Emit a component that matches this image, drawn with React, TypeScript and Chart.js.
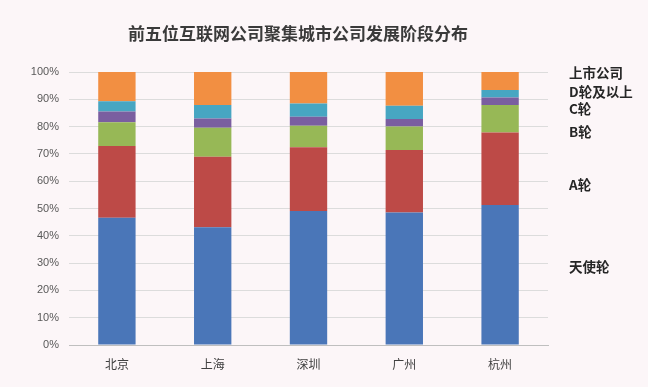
import React, { useEffect, useRef } from "react";
import { Chart, registerables } from "chart.js";

Chart.register(...registerables);

const title = "前五位互联网公司聚集城市公司发展阶段分布";
const cities = ["北京", "上海", "深圳", "广州", "杭州"];
const seriesNames = ["天使轮", "A轮", "B轮", "C轮", "D轮及以上", "上市公司"];
const angel = [46.6, 43.1, 49.1, 48.5, 51.3];
const roundA = [26.3, 25.9, 23.3, 22.9, 26.5];
const roundB = [8.7, 10.6, 7.9, 8.6, 10.1];
const roundC = [3.9, 3.4, 3.3, 2.8, 2.8];
const roundD = [3.8, 4.9, 4.9, 4.8, 2.7];
const listed = [10.7, 12.1, 11.5, 12.4, 6.6];
const colors = ["#4a76b8", "#bd4a47", "#97b856", "#7a5ea0", "#47a6c2", "#f28f42"];
// label anchor values (percent) for the right-side series names
const labelValues = [28.6, 58.6, 78.0, 86.4, 92.7, 99.6];
const yTicks = [0, 10, 20, 30, 40, 50, 60, 70, 80, 90, 100];

export default function App() {
  const ref = useRef<HTMLCanvasElement>(null);
  useEffect(() => {
    document.body.style.margin = "0";
    const canvas = ref.current!;
    const all = [angel, roundA, roundB, roundC, roundD, listed];
    const bg = {
      id: "bg",
      beforeDraw(chart: any) {
        const c = chart.ctx;
        c.save();
        c.fillStyle = "#fcf6f8";
        c.fillRect(0, 0, chart.width, chart.height);
        c.restore();
      },
    };
    const texts = {
      id: "texts",
      afterDraw(chart: any) {
        const c = chart.ctx;
        const y = chart.scales.y;
        c.save();
        c.fillStyle = "#3a3a3a";
        c.font = "bold 17px 'Noto Sans CJK SC'";
        c.textAlign = "center";
        c.textBaseline = "middle";
        c.fillText(title, 298, 34);
        c.font = "bold 13.5px 'Noto Sans CJK SC'";
        c.textAlign = "left";
        c.fillStyle = "#262626";
        seriesNames.forEach((n, i) => {
          c.fillText(n, chart.chartArea.right + 21, y.getPixelForValue(labelValues[i]));
        });
        c.restore();
      },
    };
    const chart = new Chart(canvas, {
      type: "bar",
      data: {
        labels: cities,
        datasets: all.map((d, i) => ({
          label: seriesNames[i],
          data: d,
          backgroundColor: colors[i],
          borderWidth: 0,
          barPercentage: 0.39,
          categoryPercentage: 1,
        })),
      },
      options: {
        animation: false,
        responsive: false,
        layout: { padding: { top: 72, right: 100, left: 0, bottom: 0 } },
        plugins: { legend: { display: false }, tooltip: { enabled: false } },
        scales: {
          x: {
            stacked: true,
            grid: { display: false, drawTicks: false },
            border: { color: "#bfbfbf", width: 1 },
            ticks: { padding: 12, color: "#404040", font: { size: 12, family: "'Noto Sans CJK SC'" } },
            afterFit(s: any) { s.height = 42; },
          },
          y: {
            stacked: true,
            min: 0,
            max: 100,
            afterBuildTicks(s: any) { s.ticks = yTicks.map((v) => ({ value: v })); },
            grid: { color: "#dcdcdc", drawTicks: false },
            border: { display: false },
            ticks: {
              padding: 10,
              color: "#595959",
              font: { size: 11, family: "'Liberation Sans'" },
              callback: (v: any) => v + "%",
            },
            afterFit(s: any) { s.width = 69; },
          },
        },
      },
      plugins: [bg, texts],
    });
    return () => chart.destroy();
  }, []);
  return <canvas ref={ref} width={648} height={387} style={{ display: "block" }} />;
}
